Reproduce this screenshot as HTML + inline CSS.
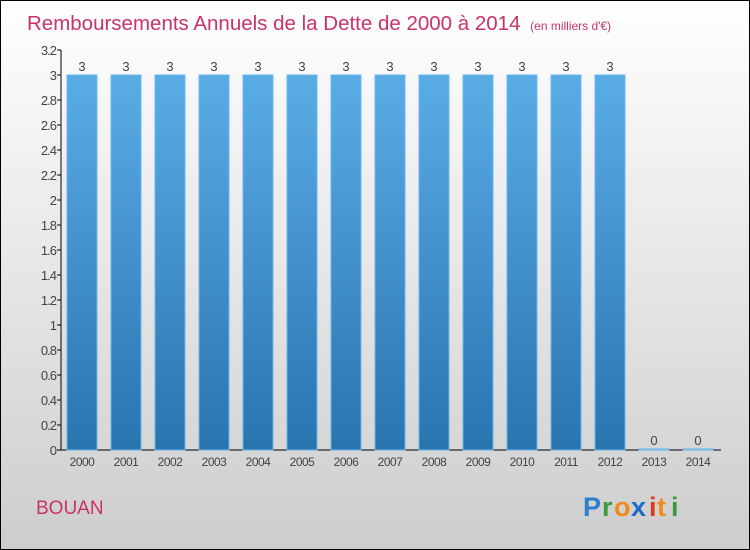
<!DOCTYPE html>
<html><head><meta charset="utf-8"><style>
body{margin:0;width:750px;height:550px;overflow:hidden}
svg{display:block}
text{font-family:"Liberation Sans",sans-serif}
</style></head><body>
<svg width="750" height="550">
<defs>
<linearGradient id="bg" x1="0" y1="0" x2="0" y2="1"><stop offset="0" stop-color="#ffffff"/><stop offset="1" stop-color="#cdcdcd"/></linearGradient>
<linearGradient id="bar" x1="0" y1="0" x2="0" y2="1"><stop offset="0" stop-color="#5aace6"/><stop offset="1" stop-color="#2a74b0"/></linearGradient>
</defs>
<rect x="0.5" y="0.5" width="749" height="549" fill="url(#bg)" stroke="#000"/>
<text x="27" y="30" font-size="20.5" fill="#c8336a">Remboursements Annuels de la Dette de 2000 à 2014 <tspan font-size="12" dx="4">(en milliers d'€)</tspan></text>
<text x="36" y="514" font-size="19" fill="#c8336a">BOUAN</text>
<g font-size="27" font-weight="bold">
<text x="583" y="516" fill="#2a7fd0">P</text><text x="602" y="516" fill="#3a9a3a">r</text><text x="614" y="516" fill="#f08a1a">o</text><text x="631" y="516" fill="#1a6cc8">x</text><text x="649" y="516" fill="#e03a1a">i</text><text x="657" y="516" fill="#f08a1a">t</text><text x="671" y="516" fill="#3a9a3a">i</text>
</g>
<g id="axes"></g>
<g id="bars"></g>
</svg>
<script>
const years=["2000","2001","2002","2003","2004","2005","2006","2007","2008","2009","2010","2011","2012","2013","2014"];
const values=[3,3,3,3,3,3,3,3,3,3,3,3,3,0,0];
const yTicks=[0,0.2,0.4,0.6,0.8,1,1.2,1.4,1.6,1.8,2,2.2,2.4,2.6,2.8,3,3.2];
const NS="http://www.w3.org/2000/svg";
const y0=450,yTop=50,yMax=3.2;
function ys(v){return y0-(v/yMax)*(y0-yTop);}
function xs(i){return 82+44*i;}
function mk(t,a,p){const e=document.createElementNS(NS,t);for(const k in a)e.setAttribute(k,a[k]);p.appendChild(e);return e;}
const ax=document.getElementById('axes'),bg=document.getElementById('bars');
let l=mk('line',{x1:61,y1:50,x2:61,y2:450,stroke:'#000','stroke-width':1},ax);


l=mk('line',{x1:61,y1:450,x2:721,y2:450,stroke:'#000','stroke-width':1},ax);


yTicks.forEach(v=>{
 const y=ys(v);
 const t=mk('line',{x1:57,y1:y,x2:61,y2:y,stroke:'#000'},ax);
 
 
 const tx=mk('text',{x:56,y:y+5,'font-size':13,fill:'#444','text-anchor':'end','letter-spacing':'-1'},ax);
 tx.textContent=String(v);
 
 
});
years.forEach((yr,i)=>{
 const x=xs(i),v=values[i],y=ys(v);
 const h=Math.max(y0-y,1);
 const r=mk('rect',{x:x-15,y:y0-h,width:30,height:h,fill:'url(#bar)',stroke:'#6ab8ee','stroke-width':1},bg);
 
 
 const lb=mk('text',{x:x,y:y0-h-4,'font-size':13,fill:'#444','text-anchor':'middle'},bg);
 lb.textContent=String(v);
 
 
 const xl=mk('text',{x:x,y:466,'font-size':12,fill:'#444','text-anchor':'middle','letter-spacing':'-0.5'},bg);
 xl.textContent=yr;
 
 
});
</script>
</body></html>
